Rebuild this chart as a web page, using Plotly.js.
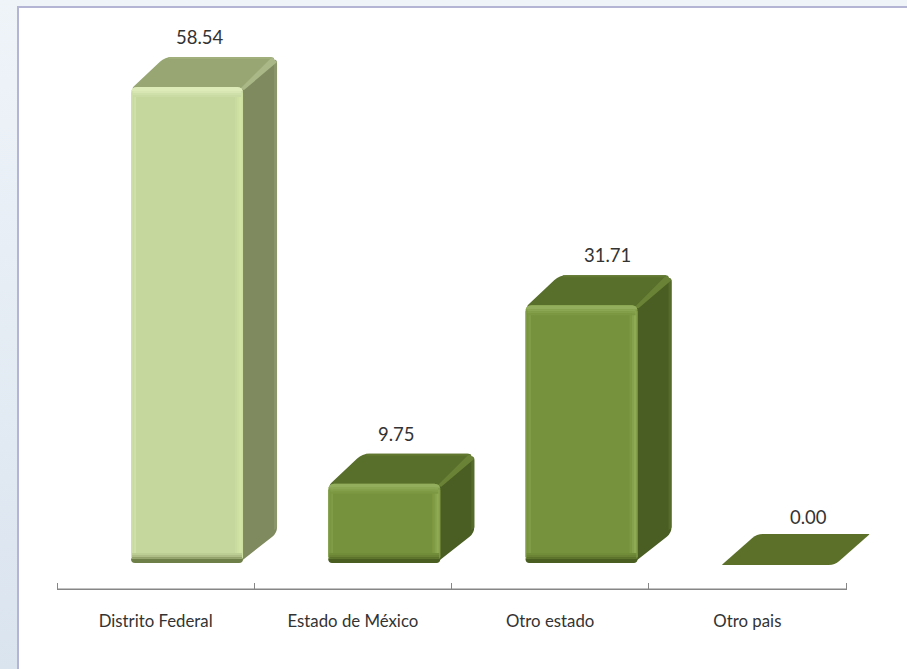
<!DOCTYPE html>
<html><head><meta charset="utf-8">
<script src="https://cdn.plot.ly/plotly-3.0.1.min.js"></script>
<style>
html,body{margin:0;padding:0;width:907px;height:669px;overflow:hidden;background:linear-gradient(180deg,#eff4f9 0%,#dae4ef 100%);}
#frame{position:absolute;left:17px;top:6px;width:888px;height:670px;background:#fff;border:2px solid #b4b5d4;border-right-width:1px;box-sizing:content-box;}
#chart{position:absolute;left:0;top:0;width:907px;height:669px;}
</style></head><body>
<div id="frame"></div><div id="chart"></div>
<script>
const categories=["Distrito Federal","Estado de México","Otro estado","Otro pais"];
const values=[58.54,9.75,31.71,0.00];
const valueLabels=["58.54","9.75","31.71","0.00"];
const labelShiftX=[13,12,26,30];
const palettes={
 light:{front:"#c6d79e",top:"#97a672",topEdge:"#a9b886",side:"#7f8a5f",sideEdge:"#8b976b",hi:"#dcebb8",right:"#d2e5a4",left:"#cfe0a8",low:"#6f7f48"},
 dark:{front:"#76923c",top:"#586e2b",topEdge:"#6a8236",side:"#4a5e24",sideEdge:"#556b2a",hi:"#93ae5c",right:"#8fab54",left:"#809c46",low:"#4a5e22"}
};
const barPalette=["light","dark","dark","dark"];

const W=907,H=669,axisL=57,axisR=846,padL=7,marginR=25,T=10,B=79;
const catPx=(axisR-axisL)/categories.length;
const unitPx=8.13;
const yMin=-27/unitPx, yMax=yMin+(H-T-B)/unitPx;
const frontOff=-24.6, frontW=112, depX=34, depY=30, rad=6, inset=5;
const X=(i,p)=>(i+(frontOff+p)/catPx);
const Y=(v,p)=>(v+p/unitPx);
const pt=(i,v,px,py)=>X(i,px).toFixed(5)+","+Y(v,py).toFixed(5);
const hex=c=>[1,3,5].map(k=>parseInt(c.substr(k,2),16));
const mix=(a,b,t)=>{const A=hex(a),B2=hex(b);return "rgb("+A.map((x,k)=>Math.round(x+(B2[k]-x)*t)).join(",")+")";};

function roundPoly(i,v,pts,r){
  let d="";const n=pts.length;
  for(let k=0;k<n;k++){
    const p=pts[k],a=pts[(k+n-1)%n],b=pts[(k+1)%n];
    const la=Math.hypot(a[0]-p[0],a[1]-p[1]),lb=Math.hypot(b[0]-p[0],b[1]-p[1]);
    const rr=Array.isArray(r)?r[k]:r;
    const s=[p[0]+(a[0]-p[0])*rr/la,p[1]+(a[1]-p[1])*rr/la];
    const e=[p[0]+(b[0]-p[0])*rr/lb,p[1]+(b[1]-p[1])*rr/lb];
    d+=(k?"L":"M")+pt(i,v,s[0],s[1])+"Q"+pt(i,v,p[0],p[1])+" "+pt(i,v,e[0],e[1]);
  }
  return d+"Z";
}
const rectPts=(x0,x1,y0,y1)=>[[x0,y0],[x1,y0],[x1,y1],[x0,y1]];
const shp=(path,fill,layer)=>({type:"path",xref:"x",yref:"y",path,fillcolor:fill,line:{width:0},layer:layer||"below"});
const shapes=[];
shapes.push({type:"line",xref:"x",yref:"y",x0:-0.5,x1:categories.length-0.5,y0:-26.3/unitPx,y1:-26.3/unitPx,line:{color:"#868686",width:1.5},layer:"below"});
values.forEach((v,i)=>{
  const c=palettes[barPalette[i]];
  const yb=-v*unitPx;
  if(v===0){
    shapes.push(shp(roundPoly(i,0,[[-1,-2],[frontW,-2],[frontW+depX+1,depY-1],[depX,depY-1]],[1,6,1,6]),"#5c7029"));
    return;
  }
  const fw=frontW,bx=frontW+depX;
  shapes.push(shp(roundPoly(i,v,[[fw-3,yb+1],[bx,yb+depY],[bx,depY],[fw-3,0]],[1,6,7,1]),c.side));
  shapes.push(shp(roundPoly(i,v,[[bx-3,yb+depY+3],[bx,yb+depY+5],[bx,depY-4],[bx-3,depY-6]],[0,1,1,0]),c.sideEdge));
  shapes.push(shp(roundPoly(i,v,[[0,-2],[fw,-2],[bx,depY],[depX,depY]],[4,4,7,7]),c.top));
  shapes.push(shp(roundPoly(i,v,[[fw-3,-2],[fw+1,-3],[bx,depY-5],[bx-5,depY]],[0,0,1,2]),c.topEdge));
  shapes.push(shp(roundPoly(i,v,[[depX+4,depY-2],[bx-6,depY-2],[bx-5,depY],[depX+3,depY]],[0,0,1,1]),mix(c.top,c.topEdge,0.5)));
  shapes.push(shp(roundPoly(i,v,rectPts(0,fw,yb,0),rad),c.left));
  [[0,1.5,0.9],[1.5,3,0.4]].forEach(s=>shapes.push(shp(roundPoly(i,v,rectPts(s[0],s[1],yb+rad,-rad),0),mix(c.front,c.left,s[2]),"above")));
  [[fw-1.5,fw,0.55],[fw-4,fw-1.5,1],[fw-6,fw-4,0.65],[fw-8,fw-6,0.3]].forEach(s=>shapes.push(shp(roundPoly(i,v,rectPts(s[0],s[1],yb+rad,-rad),0),mix(c.front,c.right,s[2]),"above")));
  shapes.push(shp(roundPoly(i,v,rectPts(0,fw,-4,0),[0,0,rad,rad]),c.hi,"above"));
  [[-4,-6,0.75],[-6,-8,0.45],[-8,-10,0.2]].forEach(s=>shapes.push(shp(roundPoly(i,v,rectPts(2,fw-2,s[1],s[0]),0),mix(c.front,c.hi,s[2]),"above")));
  shapes.push(shp(roundPoly(i,v,rectPts(0,fw,yb,yb+4.5),[4,4,0,0]),c.low,"above"));
  [[4.5,6,0.6],[6,8,0.28],[8,10,0.1]].forEach(s=>shapes.push(shp(roundPoly(i,v,rectPts(1,fw-1,yb+s[0],yb+s[1]),0),mix(c.front,c.low,s[2]),"above")));
});
const frontTrace={
  type:"bar",x:categories,y:values,
  width:(frontW-2*inset)/catPx,
  offset:(frontOff+inset)/catPx,
  marker:{color:barPalette.map(p=>palettes[p].front),line:{width:0}},
  hoverinfo:"x+y"
};
const annotations=values.map((v,i)=>({
  x:i,y:v,xref:"x",yref:"y",text:valueLabels[i],showarrow:false,
  xshift:frontOff+frontW/2+labelShiftX[i],
  yshift:(v===0?46:50),yanchor:"middle",xanchor:"center",
  font:{family:"Lato, sans-serif",size:18.5,color:"#333333"}
}));
Plotly.newPlot("chart",[frontTrace],{
  width:W,height:H,margin:{l:axisL-padL,r:marginR,t:T,b:B,pad:0},
  paper_bgcolor:"rgba(0,0,0,0)",plot_bgcolor:"rgba(0,0,0,0)",
  showlegend:false,
  xaxis:{type:"category",categoryorder:"array",categoryarray:categories,
    range:[-0.5-padL/catPx,3.5+(W-marginR-axisR)/catPx],
    tickson:"boundaries",ticks:"inside",ticklen:7,tickcolor:"#868686",tickwidth:1,
    showline:false,showgrid:false,zeroline:false,
    tickfont:{family:"Lato, sans-serif",size:16.8,color:"#333333"},ticklabelstandoff:19,automargin:false},
  yaxis:{range:[yMin,yMax],visible:false,showgrid:false,zeroline:false},
  shapes,annotations,bargap:0
},{displayModeBar:false,staticPlot:true});
</script></body></html>
